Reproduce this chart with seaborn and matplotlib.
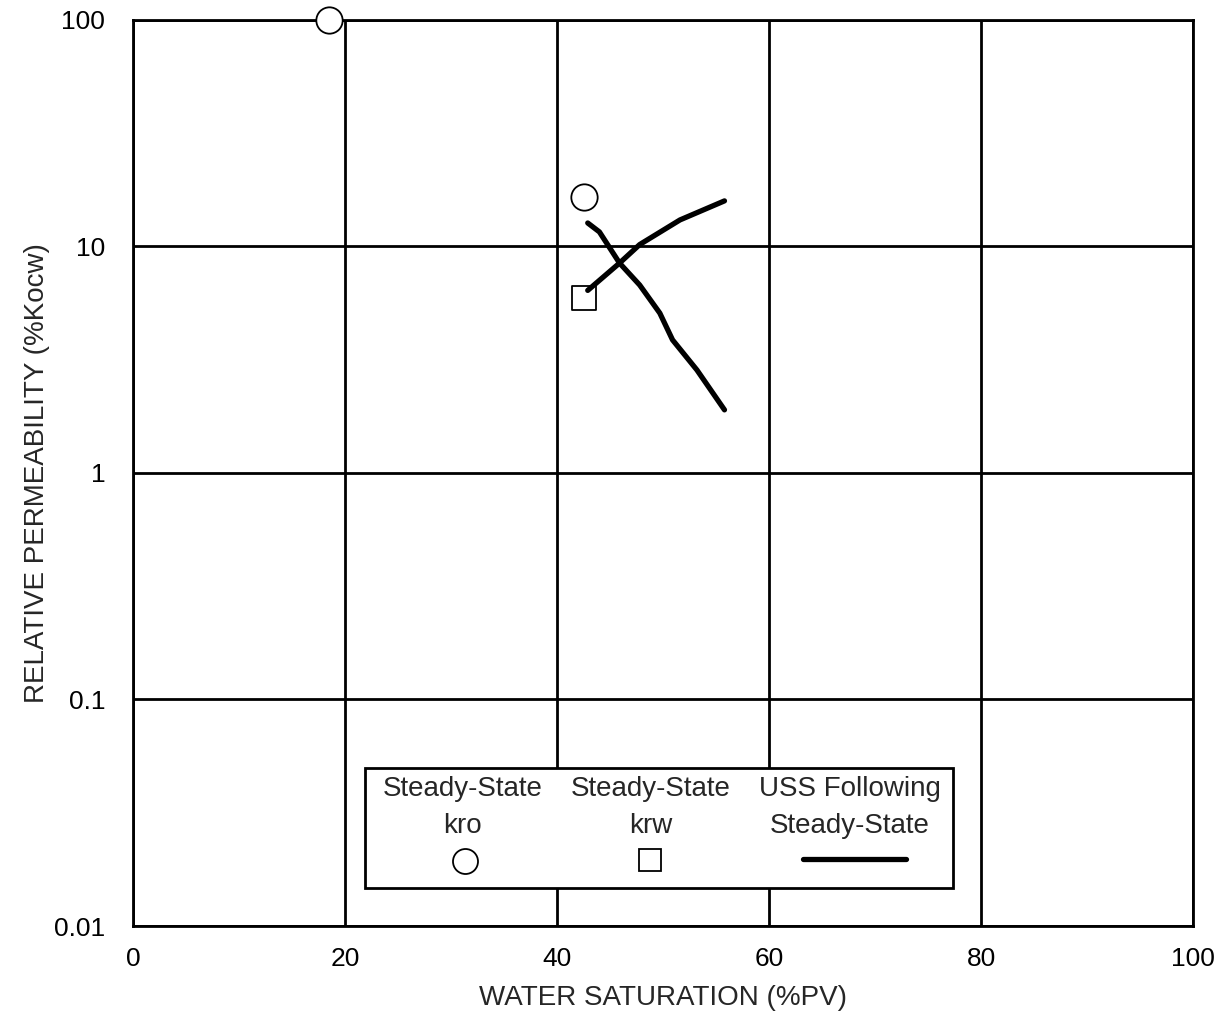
import numpy as np
import pandas as pd
import seaborn as sns
import matplotlib.pyplot as plt
from matplotlib.lines import Line2D
from matplotlib.patches import Rectangle
from matplotlib.ticker import FixedLocator, FixedFormatter, NullLocator

# steady-state points
kro_sw = [18.5, 42.5]
kro_val = [100.0, 16.5]
krw_sw = [42.5]
krw_val = [5.9]

# USS following steady-state curves
uss_krw_sw = [42.9, 45.9, 47.8, 51.6, 55.8]
uss_krw_val = [6.4, 8.45, 10.2, 13.1, 15.9]
uss_kro_sw = [42.9, 44.0, 45.9, 47.8, 49.7, 50.9, 53.2, 55.8]
uss_kro_val = [12.7, 11.6, 8.45, 6.76, 5.08, 3.87, 2.85, 1.90]

x_ticks = [0, 20, 40, 60, 80, 100]
y_ticks = [0.01, 0.1, 1, 10, 100]
y_labels = ["0.01", "0.1", "1", "10", "100"]

sns.set_style("white")
plt.rcParams['font.family'] = ['Liberation Sans', 'DejaVu Sans']

fig = plt.figure(figsize=(12.31, 10.13), dpi=100)
ax = fig.add_axes([133 / 1231, 1 - 926 / 1013, 1060 / 1231, 906 / 1013])

krw_df = pd.DataFrame({"sw": uss_krw_sw, "k": uss_krw_val})
kro_df = pd.DataFrame({"sw": uss_kro_sw, "k": uss_kro_val})
sns.lineplot(data=krw_df, x="sw", y="k", ax=ax, color="black", lw=3.8,
             sort=False, estimator=None, solid_capstyle="round", zorder=4)
sns.lineplot(data=kro_df, x="sw", y="k", ax=ax, color="black", lw=3.8,
             sort=False, estimator=None, solid_capstyle="round", zorder=4)

sns.scatterplot(x=kro_sw, y=kro_val, ax=ax, marker="o", s=360,
                facecolor="white", edgecolor="black", linewidth=1.3, zorder=3,
                clip_on=False)
sns.scatterplot(x=krw_sw, y=krw_val, ax=ax, marker="s", s=300,
                facecolor="white", edgecolor="black", linewidth=1.3, zorder=3)

ax.set_yscale("log")
ax.set_xlim(0, 100)
ax.set_ylim(0.01, 100)
ax.xaxis.set_major_locator(FixedLocator(x_ticks))
ax.yaxis.set_major_locator(FixedLocator(y_ticks))
ax.yaxis.set_major_formatter(FixedFormatter(y_labels))
ax.yaxis.set_minor_locator(NullLocator())
ax.grid(True, color="black", lw=2)
ax.tick_params(length=0, labelsize=19, colors="black")
ax.tick_params(axis="y", pad=20)
ax.tick_params(axis="x", pad=15)
for sp in ax.spines.values():
    sp.set_color("black")
    sp.set_linewidth(2)

ax.set_xlabel("WATER SATURATION (%PV)", fontsize=20, labelpad=10)
ax.set_ylabel("RELATIVE PERMEABILITY (%Kocw)", fontsize=20, labelpad=3)

# custom legend: labels above handles
lx0, lx1, ly0, ly1 = 0.219, 0.774, 0.042, 0.174
ax.add_patch(Rectangle((lx0, ly0), lx1 - lx0, ly1 - ly0, transform=ax.transAxes,
                       facecolor="white", edgecolor="black", lw=2, zorder=6))
cols = [0.311, 0.488, 0.676]
line1 = ["Steady-State", "Steady-State", "USS Following"]
line2 = ["kro", "krw", "Steady-State"]
for cx, t1, t2 in zip(cols, line1, line2):
    ax.text(cx, 0.151, t1, transform=ax.transAxes, ha="center", va="center",
            fontsize=20, zorder=7)
    ax.text(cx, 0.110, t2, transform=ax.transAxes, ha="center", va="center",
            fontsize=20, zorder=7)
ax.add_line(Line2D([0.313], [0.072], transform=ax.transAxes, marker="o",
                   markersize=18, mfc="white", mec="black", mew=1.3, ls="none",
                   zorder=7))
ax.add_line(Line2D([0.488], [0.073], transform=ax.transAxes, marker="s",
                   markersize=16, mfc="white", mec="black", mew=1.3, ls="none",
                   zorder=7))
ax.add_line(Line2D([0.632, 0.729], [0.074, 0.074], transform=ax.transAxes,
                   color="black", lw=3.8, solid_capstyle="round", zorder=7))

fig.savefig("out.png", dpi=100)
